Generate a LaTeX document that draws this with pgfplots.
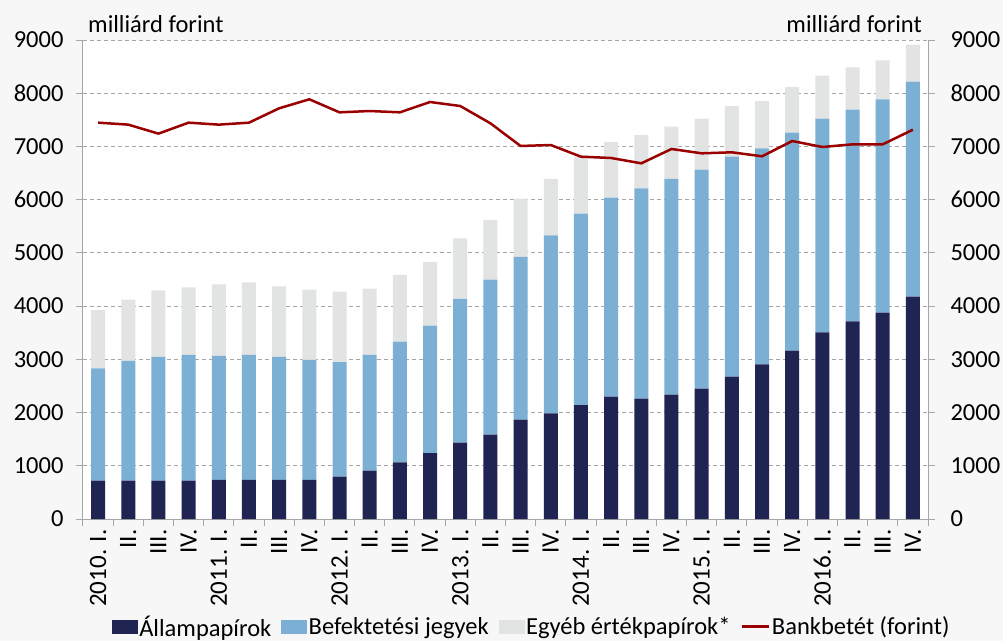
\documentclass[border=0pt]{standalone}
\usepackage{pgfplots}
\pgfplotsset{compat=1.18}
\usepackage{fontspec}
\setmainfont{Carlito}
\definecolor{bg}{HTML}{F7F7F7}
\definecolor{navy}{HTML}{1F2452}
\definecolor{lblue}{HTML}{7BAFD4}
\definecolor{lgray}{HTML}{E2E3E3}
\definecolor{dred}{HTML}{9B0000}
\definecolor{axgray}{HTML}{A6A6A6}
\pgfplotstableread{
x allam bef egyeb bank
0 720 2111 1096 7447
1 720 2249 1152 7410
2 720 2324 1252 7241
3 720 2362 1271 7447
4 735 2328 1347 7410
5 735 2347 1365 7447
6 735 2309 1328 7717
7 735 2253 1321 7886
8 795 2155 1322 7641
9 908 2174 1246 7666
10 1065 2267 1253 7641
11 1240 2393 1196 7835
12 1434 2700 1140 7760
13 1585 2915 1118 7435
14 1866 3057 1099 7009
15 1985 3345 1059 7027
16 2142 3595 1065 6808
17 2298 3740 1046 6783
18 2261 3952 1002 6683
19 2336 4053 982 6952
20 2449 4115 958 6871
21 2675 4133 952 6890
22 2906 4059 889 6815
23 3163 4096 858 7102
24 3508 4014 808 6990
25 3714 3977 796 7040
26 3877 4009 733 7040
27 4178 4039 695 7315
}\data
\newcommand\fs{\fontsize{24.5}{28}\selectfont}
\begin{document}
\begin{tikzpicture}
\path[use as bounding box, fill=bg] (-83pt,-122pt) rectangle (920pt,519pt);
\begin{axis}[
  at={(0,0)}, anchor=south west,
  scale only axis, width=845pt, height=479pt,
  xmin=-0.5, xmax=27.5, ymin=0, ymax=9000,
  axis background/.style={fill=white},
  axis x line*=bottom, axis y line*=left,
  axis line style={draw=axgray, line width=1pt, -},
  xtick={0,...,27},
  xticklabels={2010. I.,II.,III.,IV.,2011. I.,II.,III.,IV.,2012. I.,II.,III.,IV.,2013. I.,II.,III.,IV.,2014. I.,II.,III.,IV.,2015. I.,II.,III.,IV.,2016. I.,II.,III.,IV.},
  x tick label style={rotate=90, anchor=east, font=\fontsize{25}{28}\selectfont},
  minor xtick={-0.5,0.5,...,27.5},
  major x tick style={draw=none},
  minor x tick style={draw=axgray, line width=1pt},
  y tick style={draw=axgray, line width=1pt},
  tick align=outside, major tick length=7pt, minor tick length=7pt,
  ytick={0,1000,...,9000},
  yticklabel style={font=\fs, xshift=-9pt},
  /pgf/number format/assume math mode=true,
  /pgf/number format/1000 sep={},
  ymajorgrids, grid style={draw=axgray, line width=1pt, dash pattern=on 4pt off 3pt},
  ybar stacked, bar width=14pt,
  clip=false,
]
\addplot[fill=navy, draw=none] table[x=x,y=allam]{\data};
\addplot[fill=lblue, draw=none] table[x=x,y=bef]{\data};
\addplot[fill=lgray, draw=none] table[x=x,y=egyeb]{\data};
\node[anchor=base west, font=\fs, inner sep=0pt] at ([xshift=5pt,yshift=8pt]rel axis cs:0,1) {milliárd forint};
\node[anchor=base east, font=\fs, inner sep=0pt] at ([xshift=-6pt,yshift=8pt]rel axis cs:1,1) {milliárd forint};
\end{axis}
\begin{axis}[
  at={(0,0)}, anchor=south west,
  scale only axis, width=845pt, height=479pt,
  xmin=-0.5, xmax=27.5, ymin=0, ymax=9000,
  hide x axis,
  axis y line*=right,
  axis line style={draw=axgray, line width=1pt, -},
  y tick style={draw=axgray, line width=1pt},
  tick align=outside, major tick length=7pt,
  ytick={0,1000,...,9000},
  yticklabel style={font=\fs, xshift=12pt},
  /pgf/number format/assume math mode=true,
  /pgf/number format/1000 sep={},
  legend columns=4,
  legend style={at={(0.531,-0.2245)}, anchor=center, draw=none, fill=none,
    font=\fs, inner sep=0pt,
    /tikz/every even column/.append style={column sep=8pt}},
  legend cell align=left,
]
\addlegendimage{legend image code/.code={\fill[navy] (0pt,-6.5pt) rectangle (25pt,6.5pt);}}
\addlegendentry{Állampapírok}
\addlegendimage{legend image code/.code={\fill[lblue] (0pt,-6.5pt) rectangle (25pt,6.5pt);}}
\addlegendentry{Befektetési jegyek}
\addlegendimage{legend image code/.code={\fill[lgray] (0pt,-6.5pt) rectangle (25pt,6.5pt);}}
\addlegendentry{Egyéb értékpapírok*}
\addplot[sharp plot, dred, line width=2.5pt, mark=none, legend image code/.code={\draw[dred, line width=2.5pt] (0pt,0pt) -- (27pt,0pt);}] table[x=x,y=bank]{\data};
\addlegendentry{Bankbetét (forint)}
\end{axis}
\end{tikzpicture}
\end{document}
